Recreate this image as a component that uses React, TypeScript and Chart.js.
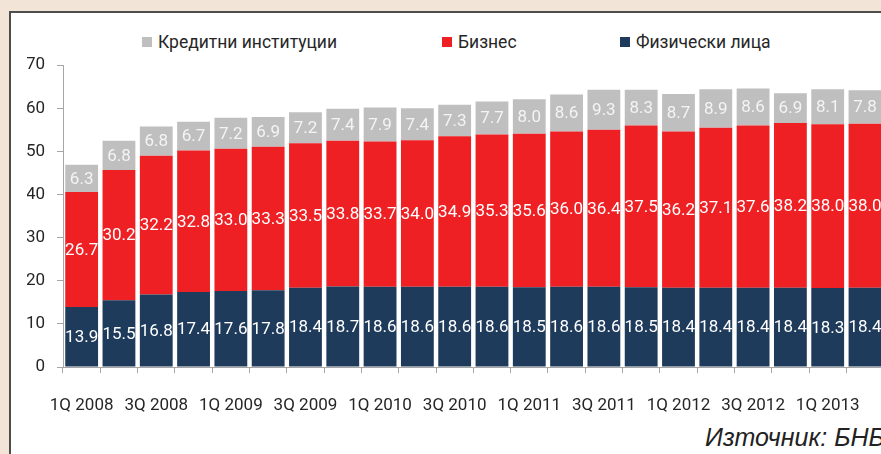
import React, { useEffect, useRef } from "react";
import { Chart, registerables } from "chart.js";

Chart.register(...registerables);

const quarters = [
  "1Q 2008", "2Q 2008", "3Q 2008", "4Q 2008",
  "1Q 2009", "2Q 2009", "3Q 2009", "4Q 2009",
  "1Q 2010", "2Q 2010", "3Q 2010", "4Q 2010",
  "1Q 2011", "2Q 2011", "3Q 2011", "4Q 2011",
  "1Q 2012", "2Q 2012", "3Q 2012", "4Q 2012",
  "1Q 2013", "2Q 2013",
];
const households = [13.9, 15.5, 16.8, 17.4, 17.6, 17.8, 18.4, 18.7, 18.6, 18.6, 18.6, 18.6, 18.5, 18.6, 18.6, 18.5, 18.4, 18.4, 18.4, 18.4, 18.3, 18.4];
const business = [26.7, 30.2, 32.2, 32.8, 33.0, 33.3, 33.5, 33.8, 33.7, 34.0, 34.9, 35.3, 35.6, 36.0, 36.4, 37.5, 36.2, 37.1, 37.6, 38.2, 38.0, 38.0];
const creditInstitutions = [6.3, 6.8, 6.8, 6.7, 7.2, 6.9, 7.2, 7.4, 7.9, 7.4, 7.3, 7.7, 8.0, 8.6, 9.3, 8.3, 8.7, 8.9, 8.6, 6.9, 8.1, 7.8];

const seriesNames = ["Физически лица", "Бизнес", "Кредитни институции"];
const seriesColors = ["#1f3b5b", "#ee2024", "#bfbfbf"];
const legendOrder = [2, 1, 0];
const yMin = 0;
const yMax = 70;
const yStep = 10;
const sourceText = "Източник: БНБ";

const FONT = "Roboto, 'Open Sans', sans-serif";

const valueLabels = {
  id: "valueLabels",
  afterDatasetsDraw(chart: any) {
    const ctx = chart.ctx;
    ctx.save();
    ctx.font = `17px ${FONT}`;
    ctx.textAlign = "center";
    ctx.textBaseline = "middle";
    chart.data.datasets.forEach((ds: any, i: number) => {
      const meta = chart.getDatasetMeta(i);
      meta.data.forEach((el: any, j: number) => {
        const v = ds.data[j];
        const yc = (el.y + el.base) / 2;
        ctx.fillStyle = i === 2 ? "#f4f4f4" : "#ffffff";
        ctx.fillText(v.toFixed(1), el.x, yc + 1);
      });
    });
    ctx.restore();
  },
};

export default function App() {
  const ref = useRef<HTMLCanvasElement>(null);

  useEffect(() => {
    if (!ref.current) return;
    const chart = new Chart(ref.current, {
      type: "bar",
      data: {
        labels: quarters,
        datasets: [households, business, creditInstitutions].map((d, i) => ({
          label: seriesNames[i],
          data: d,
          backgroundColor: seriesColors[i],
          borderWidth: 0,
          categoryPercentage: 1,
          barPercentage: 0.88,
        })),
      },
      options: {
        animation: false,
        responsive: false,
        maintainAspectRatio: false,
        layout: { padding: { left: 16, right: 0, top: 10, bottom: 0 } },
        plugins: {
          legend: { display: false },
          tooltip: { enabled: false },
        },
        scales: {
          x: {
            stacked: true,
            afterFit: (s: any) => { s.height = 50; },
            grid: {
              display: true,
              drawOnChartArea: false,
              drawTicks: true,
              tickLength: 6,
              offset: true,
              color: "#a6a6a6",
            },
            border: { display: true, color: "#a6a6a6", width: 1 },
            ticks: {
              autoSkip: false,
              maxRotation: 0,
              minRotation: 0,
              padding: 23,
              color: "#262626",
              font: { family: FONT, size: 17 },
              callback: (_v: any, i: number) => (i % 2 === 0 ? quarters[i] : ""),
            },
          },
          y: {
            stacked: true,
            min: yMin,
            max: yMax,
            afterFit: (s: any) => { s.width = 36; },
            grid: {
              display: true,
              drawOnChartArea: false,
              drawTicks: true,
              tickLength: 6,
              color: "#a6a6a6",
            },
            border: { display: true, color: "#a6a6a6", width: 1 },
            ticks: {
              stepSize: yStep,
              padding: 12,
              color: "#262626",
              font: { family: FONT, size: 17 },
            },
          },
        },
      },
      plugins: [valueLabels],
    });
    return () => chart.destroy();
  }, []);

  const legendLefts = [142, 442, 620];

  return (
    <div
      style={{
        position: "absolute",
        left: 0,
        top: 0,
        width: 881,
        height: 454,
        overflow: "hidden",
        background: "#f3e4d8",
      }}
    >
      <div
        style={{
          position: "absolute",
          left: 9,
          top: 11,
          width: 1000,
          height: 1000,
          border: "2px solid #4d4d4d",
          background: "#ffffff",
        }}
      />
      {legendOrder.map((si, k) => (
        <div
          key={si}
          style={{
            position: "absolute",
            left: legendLefts[k],
            top: 32,
            height: 20,
            display: "flex",
            alignItems: "center",
            whiteSpace: "nowrap",
            fontFamily: FONT,
            fontSize: 17.5,
            color: "#262626",
          }}
        >
          <span
            style={{
              display: "inline-block",
              width: 10,
              height: 10,
              background: seriesColors[si],
              marginRight: 6,
            }}
          />
          <span>{seriesNames[si]}</span>
        </div>
      ))}
      <div style={{ position: "absolute", left: 11, top: 43 }}>
        <canvas ref={ref} width={877} height={374} style={{ display: "block" }} />
      </div>
      <div
        style={{
          position: "absolute",
          left: 705,
          top: 423,
          whiteSpace: "nowrap",
          fontFamily: "'Liberation Sans', Arial, sans-serif",
          fontStyle: "italic",
          fontSize: 25,
          color: "#222222",
        }}
      >
        {sourceText}
      </div>
    </div>
  );
}
